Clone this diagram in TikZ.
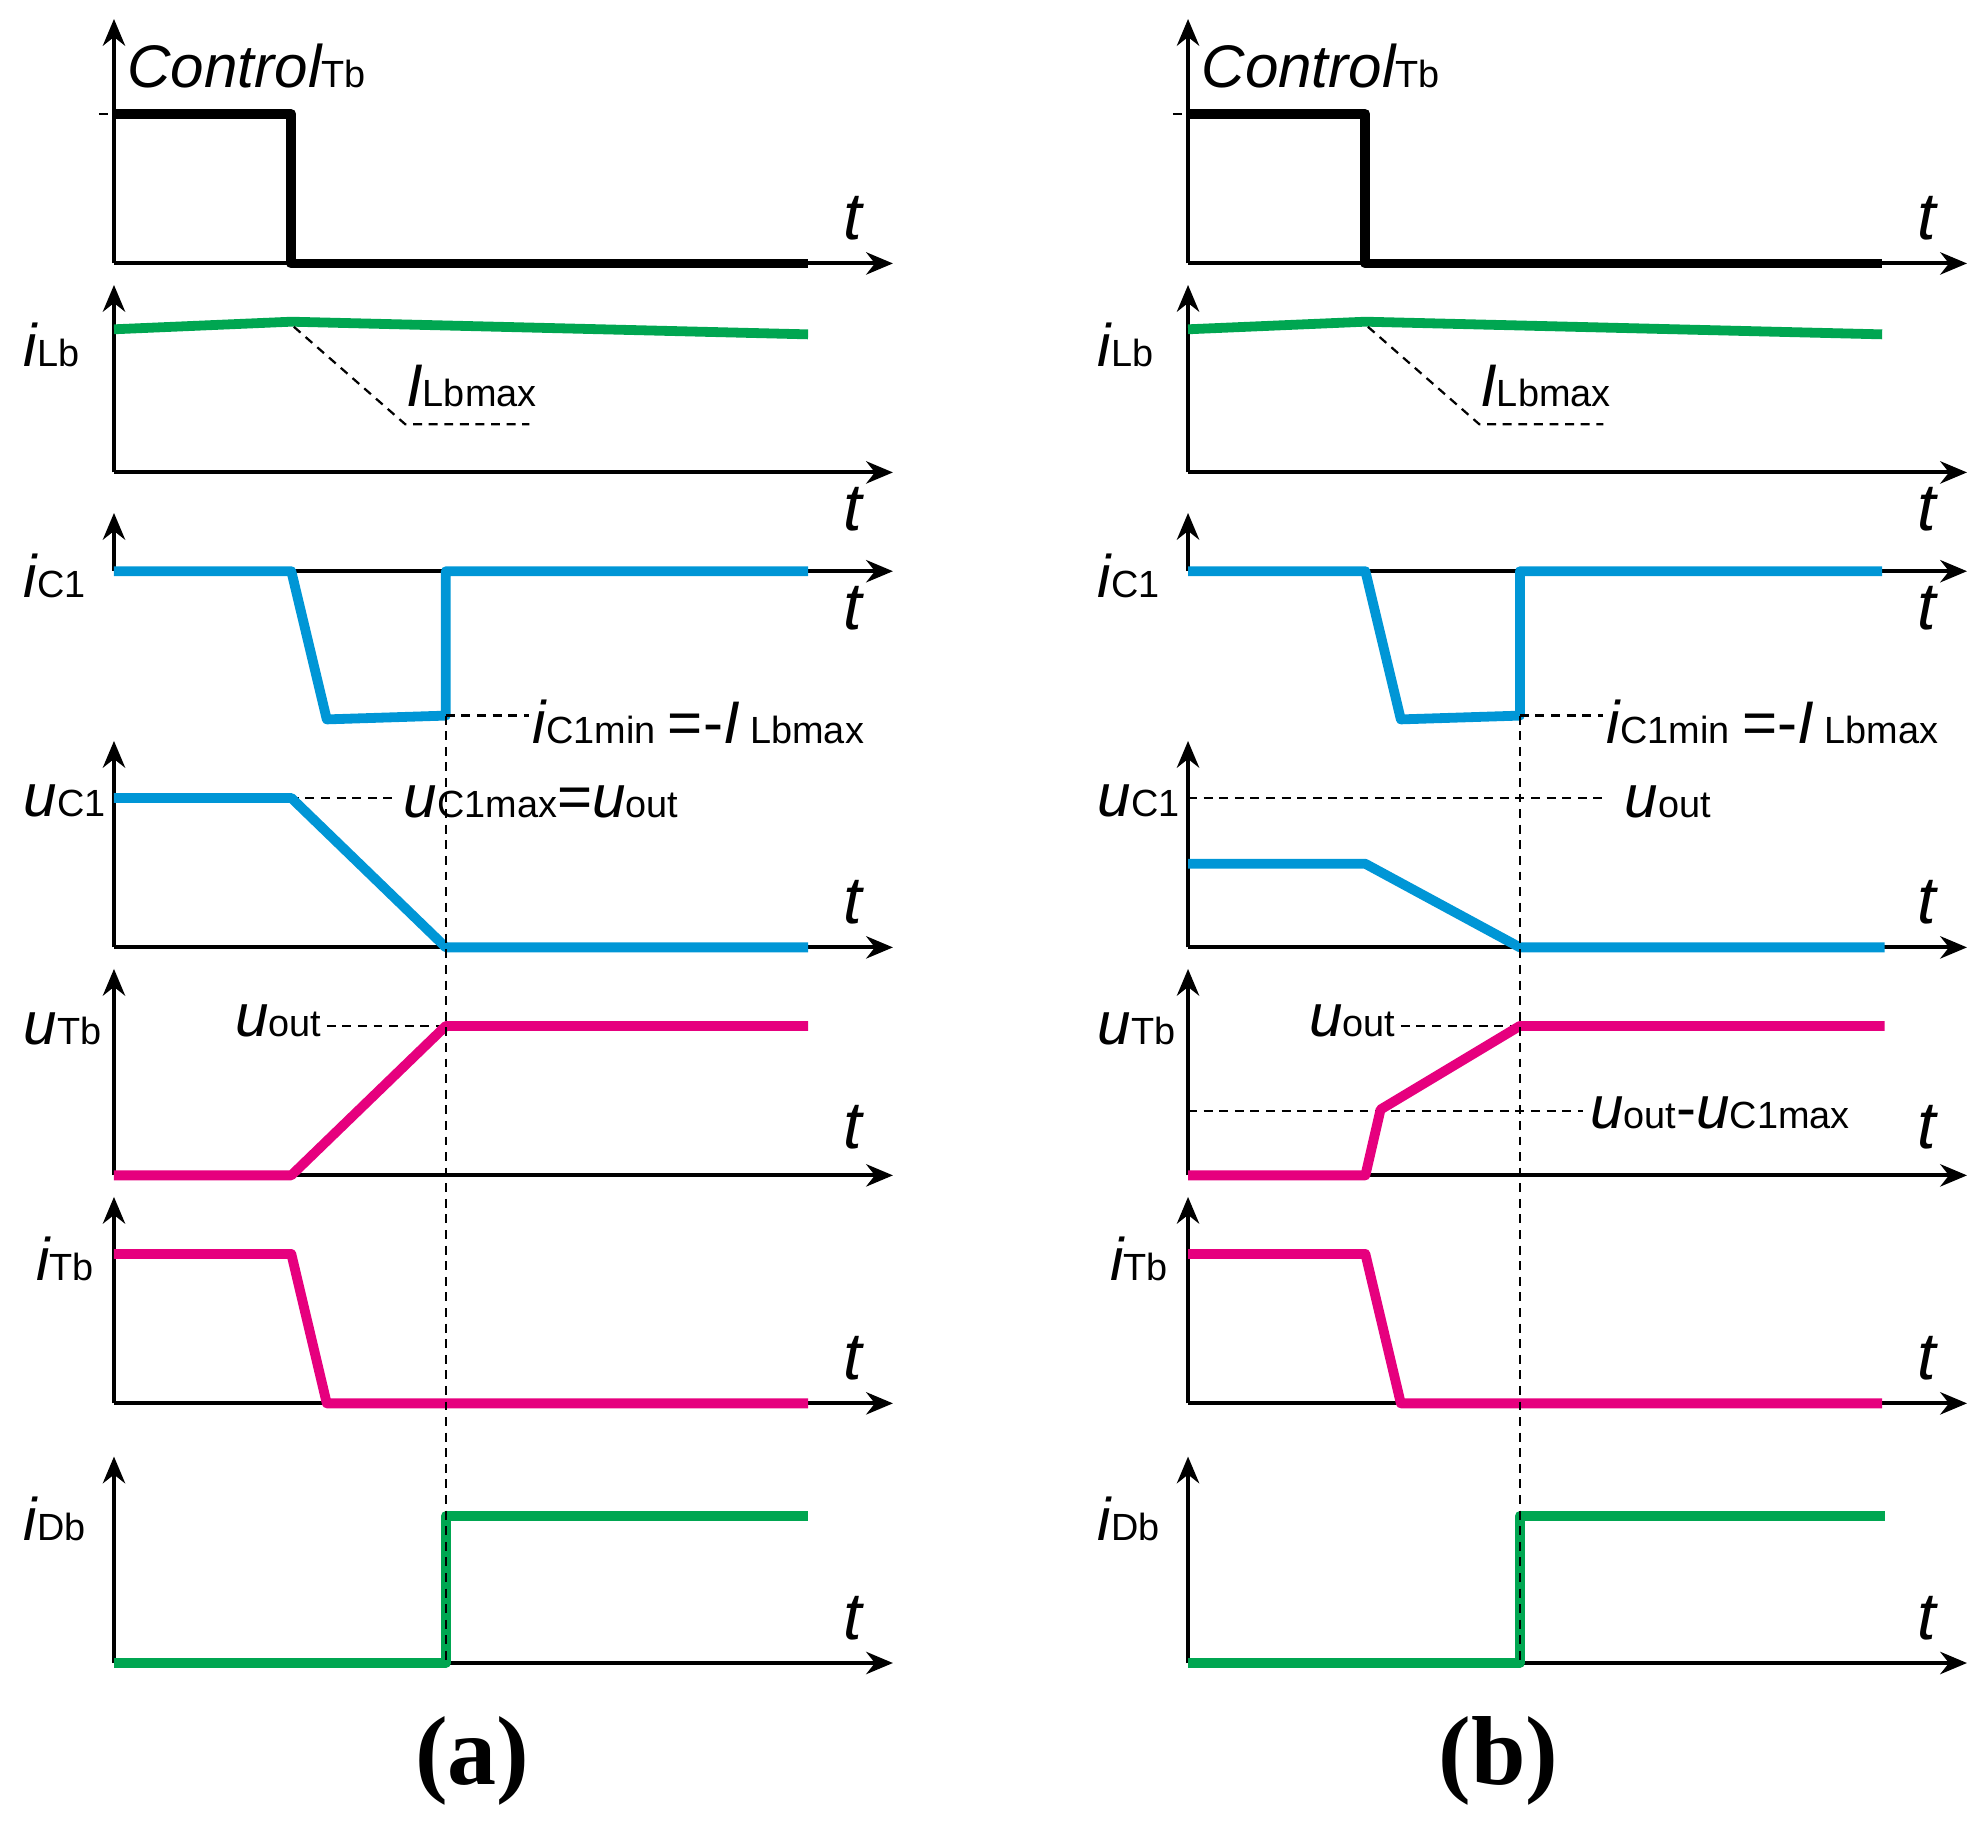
\documentclass[tikz,border=0pt]{standalone}
\usepackage{fontspec}
\setmainfont{Liberation Sans}
\newfontfamily\serif{Liberation Serif}
\usetikzlibrary{arrows.meta}
\definecolor{wgreen}{RGB}{0,166,81}
\definecolor{wblue}{RGB}{0,150,214}
\definecolor{wmag}{RGB}{230,0,126}
\newcommand\lb[2]{{\fontsize{13.5}{13.5}\selectfont\itshape #1}{\fontsize{8.5}{8.5}\selectfont #2}}
\begin{document}
\begin{tikzpicture}[x=0.01cm,y=-0.01cm,
 ax/.style={line width=0.9pt,-{Stealth[length=6pt,width=5pt]}},
 wv/.style={line width=2.2pt,line join=round},
 dsh/.style={dashed,line width=0.5pt,dash pattern=on 2pt off 1.5pt},
 lab/.style={inner sep=0,anchor=west},
 tl/.style={inner sep=0,font=\fontsize{15}{15}\selectfont\itshape}]
\useasboundingbox (0,0) rectangle (1568,1437);
\foreach \dx/\p in {0/a,848/b}{
\begin{scope}[xshift=\dx*0.01cm]
 \foreach \base/\top in {208/15,373/225,451/405,748/585,928/765,1108/945,1313/1150}{
  \draw[ax] (90,\base) -- (90,\top);
  \draw[ax] (90,\base) -- (705,\base);}
 \foreach \yy in {172,402,480,712,890,1072,1278}{\node[tl] (t\p\yy) at (673,\yy) {t};}
 \node[lab] (c\p) at (100,52) {\lb{Control}{Tb}};
 \draw[dsh] (78,90) -- (90,90);
 \draw[wv] (90,90) -- (230,90) -- (230,208) -- (638,208);
 \node[lab] (ilb\p) at (18,272) {\lb{i}{Lb}};
 \draw[wv,wgreen] (90,260) -- (230,254) -- (638,264);
 \draw[dsh] (232,258) -- (320,335) -- (418,335);
 \node[lab] (ilbm\p) at (320,305) {\lb{I}{Lbmax}};
 \node[lab] (ic\p) at (18,455) {\lb{i}{C1}};
 \draw[wv,wblue] (90,451) -- (230,451) -- (258,568) -- (352,565) -- (352,451) -- (638,451);
 \node[lab] (icm\p) at (420,570) {\lb{i}{C1min} {\fontsize{13.5}{13.5}\selectfont =-}\lb{I}{ Lbmax}};
 \draw[dsh] (352,565) -- (418,565);
 \node[lab] (uc\p) at (18,632) {\lb{u}{C1}};
 \node[lab] (ut\p) at (18,812) {\lb{u}{Tb}};
 \node[lab] (it\p) at (28,994) {\lb{i}{Tb}};
 \draw[wv,wmag] (90,990) -- (230,990) -- (258,1108) -- (638,1108);
 \node[lab] (id\p) at (18,1199) {\lb{i}{Db}};
\end{scope}}
\draw[dsh] (155,630) -- (310,630);
\node[lab] (ucma) at (318,633) {\lb{u}{C1max}{\fontsize{13.5}{13.5}\selectfont =}\lb{u}{out}};
\draw[wv,wblue] (90,630) -- (230,630) -- (352,748) -- (638,748);
\draw[dsh] (258,810) -- (385,810);
\node[lab] (uoa) at (185,806) {\lb{u}{out}};
\draw[wv,wmag] (90,928) -- (230,928) -- (352,810) -- (638,810);
\draw[wv,wgreen] (90,1313) -- (352,1313) -- (352,1197) -- (638,1197);
\draw[dsh] (352,565) -- (352,1313);
\node[inner sep=0,font=\serif\bfseries\fontsize{22}{22}\selectfont] (pa) at (373,1390) {(a)};
\draw[dsh] (938,630) -- (1270,630);
\node[lab] (uob1) at (1282,633) {\lb{u}{out}};
\draw[wv,wblue] (938,682) -- (1078,682) -- (1200,748) -- (1488,748);
\draw[dsh] (1106,810) -- (1235,810);
\node[lab] (uob) at (1033,806) {\lb{u}{out}};
\draw[dsh] (938,877) -- (1250,877);
\node[lab] (uob2) at (1255,879) {\lb{u}{out}{\fontsize{13.5}{13.5}\selectfont -}\lb{u}{C1max}};
\draw[wv,wmag] (938,928) -- (1078,928) -- (1090,876) -- (1200,810) -- (1488,810);
\draw[wv,wgreen] (938,1313) -- (1200,1313) -- (1200,1197) -- (1488,1197);
\draw[dsh] (1200,565) -- (1200,1313);
\node[inner sep=0,font=\serif\bfseries\fontsize{22}{22}\selectfont] (pb) at (1183,1390) {(b)};
\end{tikzpicture}
\end{document}
